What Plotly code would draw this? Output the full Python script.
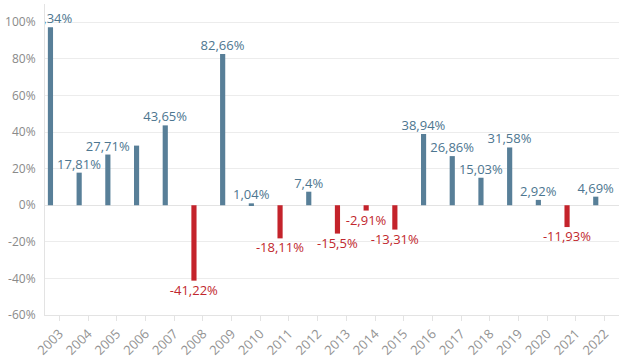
import plotly.graph_objects as go

years = [str(y) for y in range(2003, 2023)]
values = [97.34, 17.81, 27.71, 32.6, 43.65, -41.22, 82.66, 1.04, -18.11, 7.4,
          -15.5, -2.91, -13.31, 38.94, 26.86, 15.03, 31.58, 2.92, -11.93, 4.69]
show_label = [True, True, True, False, True, True, True, True, True, True,
              True, True, True, True, True, True, True, True, True, True]

POS_BAR = "#587f98"
NEG_BAR = "#c4232b"
POS_TXT = "#4d7690"
NEG_TXT = "#c1272d"

def fmt(v):
    s = ("%.2f" % v).rstrip("0").rstrip(".")
    return s.replace(".", ",") + "%"

texts = [fmt(v) if s else "" for v, s in zip(values, show_label)]
bar_colors = [POS_BAR if v >= 0 else NEG_BAR for v in values]
txt_colors = [POS_TXT if v >= 0 else NEG_TXT for v in values]

fig = go.Figure(go.Bar(
    x=years, y=values,
    width=0.18, offset=-0.4,
    marker=dict(color=bar_colors, line=dict(width=0)),
    text=texts, textposition="outside",
    textfont=dict(family="Open Sans", size=13, color=txt_colors),
    constraintext="none", cliponaxis=True,
    hoverinfo="x+y",
))

fig.update_layout(
    width=621, height=359,
    margin=dict(l=45, r=2, t=4, b=44),
    paper_bgcolor="white", plot_bgcolor="white",
    showlegend=False,
    font=dict(family="Open Sans", size=12, color="#8a8a8a"),
    xaxis=dict(
        type="category", range=[-0.5, 19.5],
        showgrid=False, showline=True, linecolor="#e3e3e3", linewidth=1,
        ticks="outside", ticklen=5, tickcolor="#e3e3e3",
        tickangle=-45, tickfont=dict(size=13, color="#939393"),
        zeroline=False, automargin=False,
    ),
    yaxis=dict(
        range=[-60, 110],
        tickvals=[-60, -40, -20, 0, 20, 40, 60, 80, 100],
        ticktext=["-60%", "-40%", "-20%", "0%", "20%", "40%", "60%", "80%", "100%"],
        showgrid=True, gridcolor="#ececec", gridwidth=1,
        showline=True, linecolor="#e3e3e3", linewidth=1,
        zeroline=True, zerolinecolor="#e3e3e3", zerolinewidth=1,
        tickfont=dict(size=12, color="#8a8a8a"),
        ticklabelstandoff=6, automargin=False,
    ),
)

fig.write_html(
    "out.html",
    config={"displayModeBar": False},
    post_script="document.body.style.margin='0px';document.body.style.overflow='hidden';",
)
